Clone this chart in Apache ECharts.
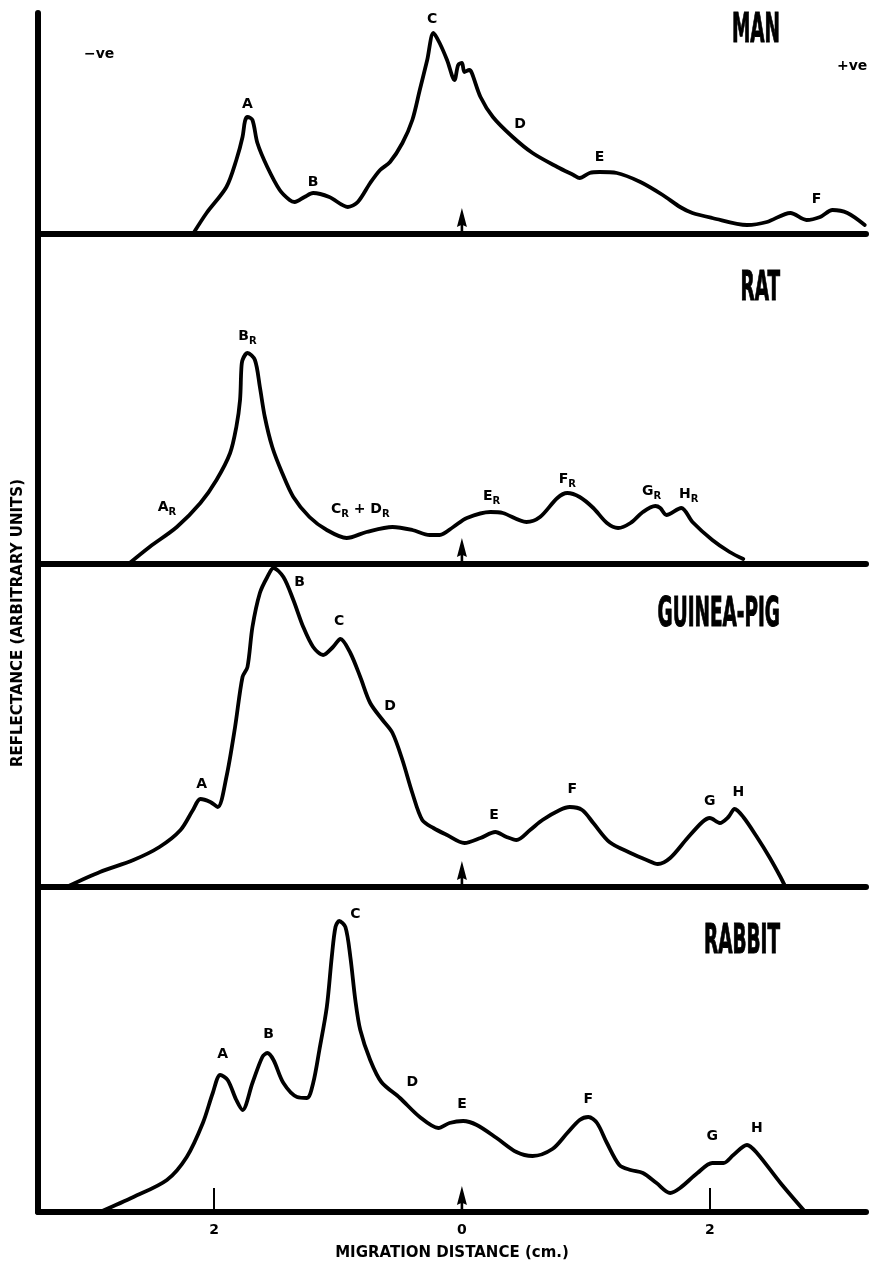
<!DOCTYPE html>
<html>
<head>
<meta charset="utf-8">
<script src="https://cdn.jsdelivr.net/npm/echarts@6/dist/echarts.min.js"></script>
<style>
  html, body { margin: 0; padding: 0; background: #fff; }
  #chart { width: 874px; height: 1262px; }
</style>
</head>
<body>
<div id="chart"></div>
<script>
// Densitometer tracings of serum electrophoresis, one panel per species.
// x: migration distance from the origin (cm), y: reflectance (arbitrary units).

const panelNames = ['MAN', 'RAT', 'GUINEA-PIG', 'RABBIT'];

const manProfile = [
  [-2.17, 0], [-2.06, 2.1], [-1.90, 4.7], [-1.82, 7.4], [-1.77, 9.7], [-1.75, 11.3],
  [-1.73, 11.7], [-1.69, 11.4], [-1.65, 9.1], [-1.57, 6.7], [-1.47, 4.4], [-1.39, 3.4],
  [-1.35, 3.2], [-1.27, 3.7], [-1.20, 4.1], [-1.07, 3.7], [-0.92, 2.7], [-0.84, 3.2],
  [-0.74, 5.1], [-0.66, 6.4], [-0.58, 7.2], [-0.48, 9.1], [-0.40, 11.4], [-0.34, 14.4],
  [-0.28, 17.4], [-0.23, 20.1], [-0.18, 19.1], [-0.12, 17.4], [-0.06, 15.4], [-0.03, 16.9],
  [0.00, 17.1], [0.02, 16.2], [0.06, 16.4], [0.08, 16.1], [0.15, 13.7], [0.25, 11.7],
  [0.41, 9.7], [0.57, 8.1], [0.77, 6.7], [0.90, 5.9], [0.95, 5.6], [1.03, 6.1],
  [1.11, 6.2], [1.25, 6.1], [1.44, 5.2], [1.62, 3.9], [1.76, 2.7], [1.86, 2.1],
  [2.02, 1.6], [2.30, 0.9], [2.46, 1.2], [2.65, 2.1], [2.78, 1.4], [2.89, 1.7],
  [2.99, 2.4], [3.11, 2.1], [3.25, 0.9]
];

const ratProfile = [
  [-2.69, 0], [-2.52, 1.7], [-2.30, 3.7], [-2.11, 6.1], [-1.98, 8.4], [-1.87, 11.1],
  [-1.82, 13.7], [-1.79, 16.4], [-1.78, 19.4], [-1.77, 20.4], [-1.73, 21.1], [-1.67, 20.4],
  [-1.63, 17.7], [-1.59, 14.7], [-1.53, 11.7], [-1.45, 9.1], [-1.36, 6.7], [-1.23, 4.7],
  [-1.09, 3.4], [-0.93, 2.6], [-0.77, 3.2], [-0.56, 3.7], [-0.40, 3.4], [-0.26, 2.9],
  [-0.18, 2.9], [-0.07, 3.7], [0.04, 4.6], [0.23, 5.2], [0.33, 5.1], [0.52, 4.2],
  [0.63, 4.7], [0.77, 6.6], [0.85, 7.1], [0.95, 6.7], [1.06, 5.6], [1.17, 4.1],
  [1.26, 3.6], [1.36, 4.1], [1.46, 5.2], [1.56, 5.8], [1.60, 5.6], [1.65, 4.9],
  [1.77, 5.6], [1.86, 4.2], [2.02, 2.4], [2.16, 1.2], [2.27, 0.5]
];

const guineaPigProfile = [
  [-3.19, 0], [-2.92, 1.5], [-2.65, 2.7], [-2.44, 4.0], [-2.27, 5.7], [-2.17, 7.7],
  [-2.11, 8.8], [-2.03, 8.5], [-1.97, 8.0], [-1.90, 11.0], [-1.83, 16.0], [-1.77, 21.0],
  [-1.73, 22.0], [-1.69, 26.0], [-1.63, 29.4], [-1.57, 31.0], [-1.52, 31.9], [-1.44, 31.0],
  [-1.36, 28.7], [-1.28, 26.0], [-1.20, 24.0], [-1.12, 23.2], [-1.04, 24.0], [-0.98, 24.8],
  [-0.90, 23.4], [-0.82, 21.0], [-0.74, 18.4], [-0.64, 16.7], [-0.56, 15.4], [-0.48, 12.7],
  [-0.40, 9.4], [-0.32, 6.7], [-0.23, 5.9], [-0.12, 5.2], [0.02, 4.4], [0.15, 4.9],
  [0.27, 5.5], [0.36, 5.0], [0.44, 4.7], [0.55, 5.7], [0.65, 6.7], [0.79, 7.7],
  [0.87, 8.0], [0.97, 7.7], [1.06, 6.4], [1.19, 4.5], [1.36, 3.4], [1.49, 2.7],
  [1.58, 2.3], [1.68, 2.9], [1.82, 4.9], [1.94, 6.5], [2.00, 6.9], [2.08, 6.4],
  [2.15, 7.0], [2.20, 7.8], [2.27, 7.0], [2.38, 5.0], [2.48, 3.0], [2.57, 1.0],
  [2.61, 0]
];

const rabbitProfile = [
  [-2.92, 0], [-2.65, 1.5], [-2.38, 3.2], [-2.22, 5.5], [-2.09, 8.9], [-2.01, 11.9],
  [-1.95, 13.7], [-1.89, 13.2], [-1.82, 11.2], [-1.77, 10.2], [-1.69, 12.9], [-1.61, 15.5],
  [-1.57, 15.9], [-1.52, 15.2], [-1.44, 12.9], [-1.33, 11.5], [-1.25, 11.4], [-1.20, 12.9],
  [-1.15, 16.2], [-1.09, 20.5], [-1.05, 25.5], [-1.02, 28.5], [-0.99, 29.1], [-0.94, 28.5],
  [-0.90, 25.5], [-0.86, 21.2], [-0.82, 18.2], [-0.74, 15.2], [-0.65, 13.0], [-0.50, 11.4],
  [-0.34, 9.5], [-0.19, 8.4], [-0.10, 8.9], [0.01, 9.1], [0.12, 8.7], [0.28, 7.4],
  [0.44, 6.0], [0.57, 5.6], [0.73, 6.3], [0.85, 7.9], [0.95, 9.2], [1.02, 9.5],
  [1.09, 8.9], [1.17, 6.9], [1.27, 4.7], [1.36, 4.2], [1.46, 3.9], [1.57, 2.9],
  [1.68, 1.9], [1.76, 2.4], [1.90, 3.9], [2.02, 4.9], [2.11, 4.9], [2.19, 5.7],
  [2.30, 6.7], [2.38, 5.9], [2.57, 2.9], [2.77, 0]
];

// Peak letters: [x, y, name]; "_R" marks a subscript R (rat fractions).
const manPeaks = [
  [-1.73, 12.9, 'A'], [-1.20, 5.1, 'B'], [-0.24, 21.4, 'C'],
  [0.47, 10.9, 'D'], [1.11, 7.6, 'E'], [2.86, 3.4, 'F']
];
const ratPeaks = [
  [-2.38, 5.6, 'A_R'], [-1.73, 22.7, 'B_R'], [-0.82, 5.4, 'C_R + D_R'],
  [0.24, 6.7, 'E_R'], [0.85, 8.4, 'F_R'], [1.53, 7.2, 'G_R'], [1.83, 6.9, 'H_R']
];
const guineaPigPeaks = [
  [-2.10, 10.2, 'A'], [-1.31, 30.4, 'B'], [-0.99, 26.5, 'C'], [-0.58, 18.0, 'D'],
  [0.26, 7.1, 'E'], [0.89, 9.7, 'F'], [2.00, 8.5, 'G'], [2.23, 9.4, 'H']
];
const rabbitPeaks = [
  [-1.93, 15.7, 'A'], [-1.56, 17.7, 'B'], [-0.86, 29.7, 'C'], [-0.40, 12.9, 'D'],
  [0.00, 10.7, 'E'], [1.02, 11.2, 'F'], [2.02, 7.5, 'G'], [2.38, 8.3, 'H']
];

const originMark = [[0, 0]];          // application point
const scaleTickValues = [-2, 2];      // cm marks either side of the origin
const scaleLabelValues = [-2, 0, 2];

const profiles = [manProfile, ratProfile, guineaPigProfile, rabbitProfile];
const peaks = [manPeaks, ratPeaks, guineaPigPeaks, rabbitPeaks];

// ---- layout ----
const X_MIN = -3.42, X_MAX = 3.26;
const layout = [
  { top: 13, height: 221, yMax: 22.1, titleY: 31 },
  { top: 234, height: 330, yMax: 33.0, titleY: 289 },
  { top: 564, height: 323, yMax: 32.3, titleY: 615 },
  { top: 887, height: 325, yMax: 32.5, titleY: 942 }
];
const INK = '#000';
const FONT = '"DejaVu Sans", "Liberation Sans", sans-serif';

function richName(name) {
  const parts = name.split('_R');
  let out = '';
  parts.forEach((p, i) => {
    if (p) out += '{m|' + p + '}';
    if (i < parts.length - 1) out += '{s|R}';
  });
  return out;
}

const grids = [], xAxes = [], yAxes = [], series = [], graphics = [];

layout.forEach((L, i) => {
  const last = i === layout.length - 1;
  grids.push({ left: 38, right: 8, top: L.top, height: L.height });
  xAxes.push({
    type: 'value', gridIndex: i, min: X_MIN, max: X_MAX,
    axisLine: { show: true, onZero: false, lineStyle: { color: INK, width: 6 } },
    splitLine: { show: false },
    axisTick: last
      ? { show: true, inside: true, length: 24, customValues: scaleTickValues,
          lineStyle: { color: INK, width: 2 } }
      : { show: false },
    axisLabel: last
      ? { show: true, customValues: scaleLabelValues, formatter: v => String(Math.abs(v)),
          color: INK, fontFamily: FONT, fontWeight: 'bold', fontSize: 14, margin: 11 }
      : { show: false },
    name: last ? 'MIGRATION DISTANCE (cm.)' : '',
    nameLocation: 'middle', nameGap: 34,
    nameTextStyle: { color: INK, fontFamily: FONT, fontWeight: 'bold', fontSize: 15 }
  });
  yAxes.push({
    type: 'value', gridIndex: i, min: 0, max: L.yMax,
    axisLine: { show: true, onZero: false, lineStyle: { color: INK, width: 6 } },
    axisTick: { show: false }, axisLabel: { show: false }, splitLine: { show: false }
  });

  series.push({
    type: 'line', name: panelNames[i], xAxisIndex: i, yAxisIndex: i,
    data: profiles[i], symbol: 'none', smooth: 0.3, clip: false,
    lineStyle: { color: INK, width: 3.8, cap: 'round', join: 'round' },
    silent: true
  });
  series.push({
    type: 'scatter', xAxisIndex: i, yAxisIndex: i, data: originMark,
    symbol: 'path://M5,0 L10,22 L6.3,20 L6.3,30 L3.7,30 L3.7,20 L0,22 Z',
    symbolSize: [10, 26], symbolOffset: [0, -13],
    itemStyle: { color: INK, opacity: 1 }, silent: true, z: 3
  });
  series.push({
    type: 'scatter', xAxisIndex: i, yAxisIndex: i, data: peaks[i],
    symbolSize: 1, itemStyle: { color: 'transparent', opacity: 1 }, silent: true,
    label: {
      show: true, position: 'inside', color: INK, opacity: 1,
      formatter: p => richName(p.data[2]),
      rich: {
        m: { fontFamily: FONT, fontWeight: 'bold', fontSize: 14, lineHeight: 16,
             color: INK, verticalAlign: 'top' },
        s: { fontFamily: FONT, fontWeight: 'bold', fontSize: 10, lineHeight: 10,
             color: INK, verticalAlign: 'top', padding: [7, 0, 0, 0] }
      }
    }
  });

  graphics.push({
    type: 'text', x: 780, y: L.titleY, scaleX: 0.5, silent: true,
    style: {
      text: panelNames[i], fill: INK, stroke: INK, lineWidth: 1,
      font: 'bold 41px "DejaVu Sans Condensed", "DejaVu Sans", sans-serif',
      textAlign: 'right', textVerticalAlign: 'middle'
    }
  });
});

graphics.push({
  type: 'text', x: 18, y: 623, rotation: Math.PI / 2, silent: true,
  style: {
    text: 'REFLECTANCE (ARBITRARY UNITS)', fill: INK,
    font: 'bold 15px ' + FONT, textAlign: 'center', textVerticalAlign: 'middle'
  }
});
graphics.push({
  type: 'text', x: 84, y: 54, silent: true,
  style: { text: '\u2212ve', fill: INK, font: 'bold 14px ' + FONT,
           textAlign: 'left', textVerticalAlign: 'middle' }
});
graphics.push({
  type: 'text', x: 837, y: 66, silent: true,
  style: { text: '+ve', fill: INK, font: 'bold 14px ' + FONT,
           textAlign: 'left', textVerticalAlign: 'middle' }
});

const chart = echarts.init(document.getElementById('chart'), null, { renderer: 'canvas' });
chart.setOption({
  backgroundColor: '#fff',
  animation: false,
  grid: grids,
  xAxis: xAxes,
  yAxis: yAxes,
  series: series,
  graphic: graphics
});
</script>
</body>
</html>
